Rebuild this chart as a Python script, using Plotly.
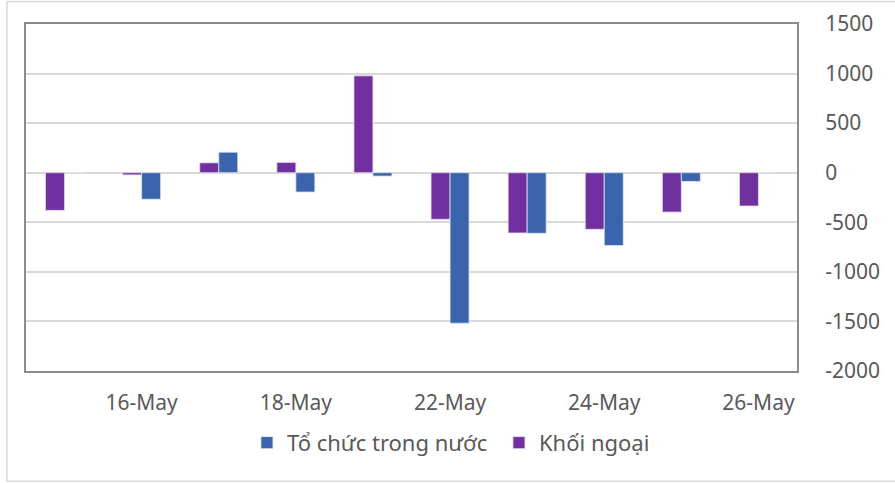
import plotly.graph_objects as go

categories = ["15-May", "16-May", "17-May", "18-May", "19-May",
              "22-May", "23-May", "24-May", "25-May", "26-May"]
khoi_ngoai = [-380, -22, 100, 104, 977, -470, -608, -571, -397, -336]
to_chuc = [0, -267, 207, -195, -34, -1518, -611, -735, -88, 0]
tick_labels = ["16-May", "18-May", "22-May", "24-May", "26-May"]
y_ticks = [-2000, -1500, -1000, -500, 0, 500, 1000, 1500]
y_tick_text = ["-2000", "-1500", "-1000", "-500", "0", "500", "1000", "1500"]

FONT = "Noto Sans"
TXT = "#595959"

fig = go.Figure()
fig.add_trace(go.Bar(
    x=categories, y=khoi_ngoai, name="Khối ngoại",
    marker=dict(color="#7030A0", line=dict(color="#E6E0F0", width=0.8)),
    legendrank=2,
))
fig.add_trace(go.Bar(
    x=categories, y=to_chuc, name="Tổ chức trong nước",
    marker=dict(color="#3A64AD", line=dict(color="#E0E6F4", width=0.8)),
    legendrank=1,
))

fig.update_layout(
    width=895, height=483,
    margin=dict(l=26, r=98, t=23.5, b=112, autoexpand=False),
    paper_bgcolor="white", plot_bgcolor="white",
    barmode="group", bargap=0.507, bargroupgap=0,
    font=dict(family=FONT, size=21, color=TXT),
    showlegend=True,
    legend=dict(orientation="h", x=0.2866, xanchor="left", y=-0.207,
                yanchor="middle", font=dict(family=FONT, size=22, color=TXT),
                itemwidth=30, tracegroupgap=0, bgcolor="rgba(0,0,0,0)",
                entrywidth=207, entrywidthmode="pixels"),
    xaxis=dict(
        type="category", tickmode="array", tickvals=tick_labels,
        ticktext=tick_labels, showgrid=False, automargin=False,
        showline=True, linecolor="#8C8C8C", linewidth=2, mirror=True,
        ticks="", ticklabelstandoff=12,
        tickfont=dict(family=FONT, size=21, color=TXT),
    ),
    yaxis=dict(
        side="right", range=[-2000, 1500], tickmode="array",
        tickvals=y_ticks, ticktext=y_tick_text,
        showgrid=True, gridcolor="#D9D9D9", gridwidth=1.5, automargin=False,
        zeroline=True, zerolinecolor="#D9D9D9", zerolinewidth=1.5,
        showline=True, linecolor="#8C8C8C", linewidth=2, mirror=True,
        ticks="", ticklabelstandoff=22,
        tickfont=dict(family=FONT, size=21, color=TXT),
    ),
    shapes=[dict(type="rect", xref="paper", yref="paper",
                 x0=(7 - 26) / 771, x1=(900 - 26) / 771,
                 y0=(371 - 481.5) / 347.5, y1=1 + (23.5 - 1) / 347.5,
                 line=dict(color="#D9D9D9", width=1.5), layer="below")],
)

fig.write_html("out.html", config={"displayModeBar": False},
               post_script="document.body.style.margin='0';")
